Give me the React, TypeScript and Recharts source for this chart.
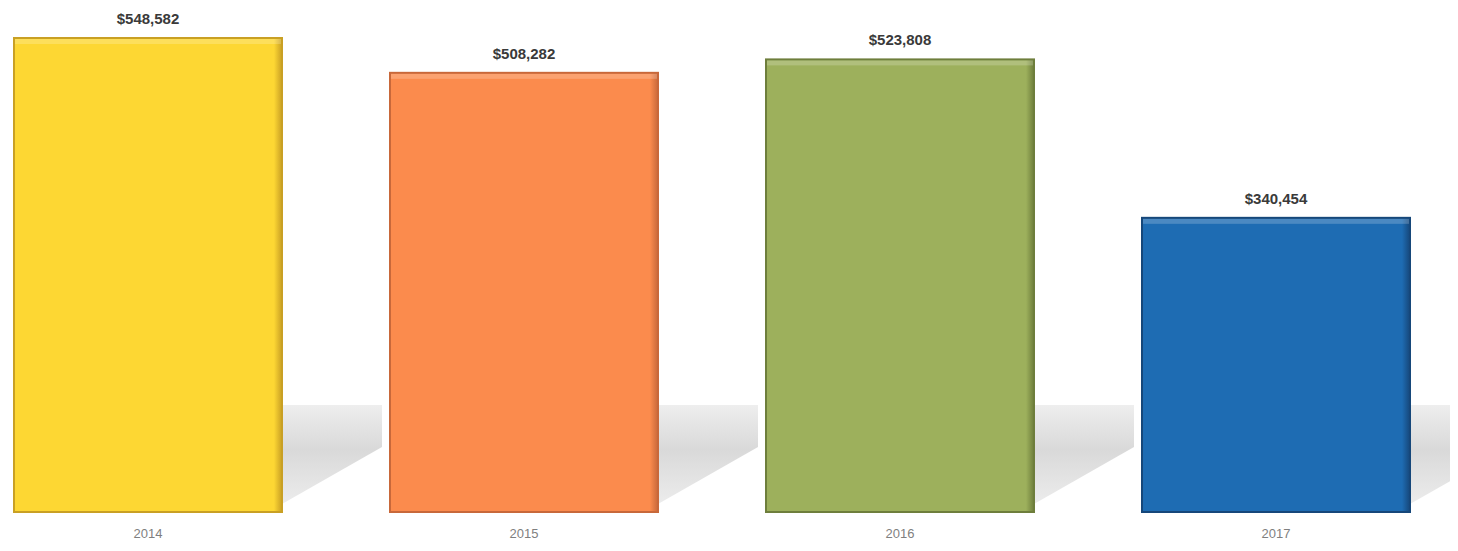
import React from 'react';
import { BarChart, Bar, XAxis, YAxis, LabelList, Cell } from 'recharts';

const years = ['2014', '2015', '2016', '2017'];
const amounts = [548582, 508282, 523808, 340454];
const fills = ['#FDD733', '#FB8B4D', '#9DB05C', '#1E6CB3'];
const edges = ['#C9A024', '#C8683A', '#6E7E3C', '#16477A'];

const data = years.map((y, i) => ({ year: y, value: amounts[i] }));

const fmt = (v: number) => '$' + v.toLocaleString('en-US');

const BarShape = (props: any) => {
  const { x, y, width, height, index } = props;
  const bottom = y + height;
  const right = x + width;
  const shadowW = 100;
  return (
    <g>
      <polygon
        points={`${right},${bottom - 107} ${right + shadowW},${bottom - 107} ${right + shadowW},${bottom - 65} ${right},${bottom - 8}`}
        fill="url(#shadowGrad)"
      />
      <rect x={x} y={y} width={width} height={height} fill={`url(#body${index})`} stroke={edges[index]} strokeWidth={2} />
      <rect x={x + 1} y={y + 1} width={width - 2} height={5} fill="#ffffff" opacity={0.2} />
    </g>
  );
};

export default function App() {
  return (
    <div style={{ width: 1450, height: 543, background: '#fff', overflow: 'hidden' }}>
      <BarChart
        width={1450}
        height={543}
        data={data}
        margin={{ top: 30, right: -6, left: -48, bottom: 0 }}
        barSize={268}
      >
        <defs>
          <linearGradient id="shadowGrad" x1="0" y1="0" x2="0" y2="1">
            <stop offset="0%" stopColor="#eeeeee" />
            <stop offset="45%" stopColor="#d9d9d9" />
            <stop offset="100%" stopColor="#ececec" />
          </linearGradient>
          {fills.map((c, i) => (
            <linearGradient key={i} id={`body${i}`} x1="0" y1="0" x2="1" y2="0">
              <stop offset="0%" stopColor={c} />
              <stop offset="97%" stopColor={c} />
              <stop offset="100%" stopColor={edges[i]} />
            </linearGradient>
          ))}
        </defs>
        <XAxis
          dataKey="year"
          axisLine={false}
          tickLine={false}
          tickSize={0}
          tickMargin={17}
          height={39}
          tick={{ fill: '#7f7f7f', fontSize: 13, fontFamily: 'Liberation Sans, Arial, sans-serif' }}
        />
        <YAxis hide domain={[0, 548582]} />
        <Bar dataKey="value" isAnimationActive={false} shape={<BarShape />}>
          {data.map((d, i) => (
            <Cell key={i} fill={fills[i]} />
          ))}
          <LabelList
            dataKey="value"
            position="top"
            offset={14}
            formatter={(v: any) => fmt(Number(v))}
            style={{ fill: '#3a3a3a', fontSize: 15, fontWeight: 'bold', fontFamily: 'Liberation Sans, Arial, sans-serif' }}
          />
        </Bar>
      </BarChart>
    </div>
  );
}
